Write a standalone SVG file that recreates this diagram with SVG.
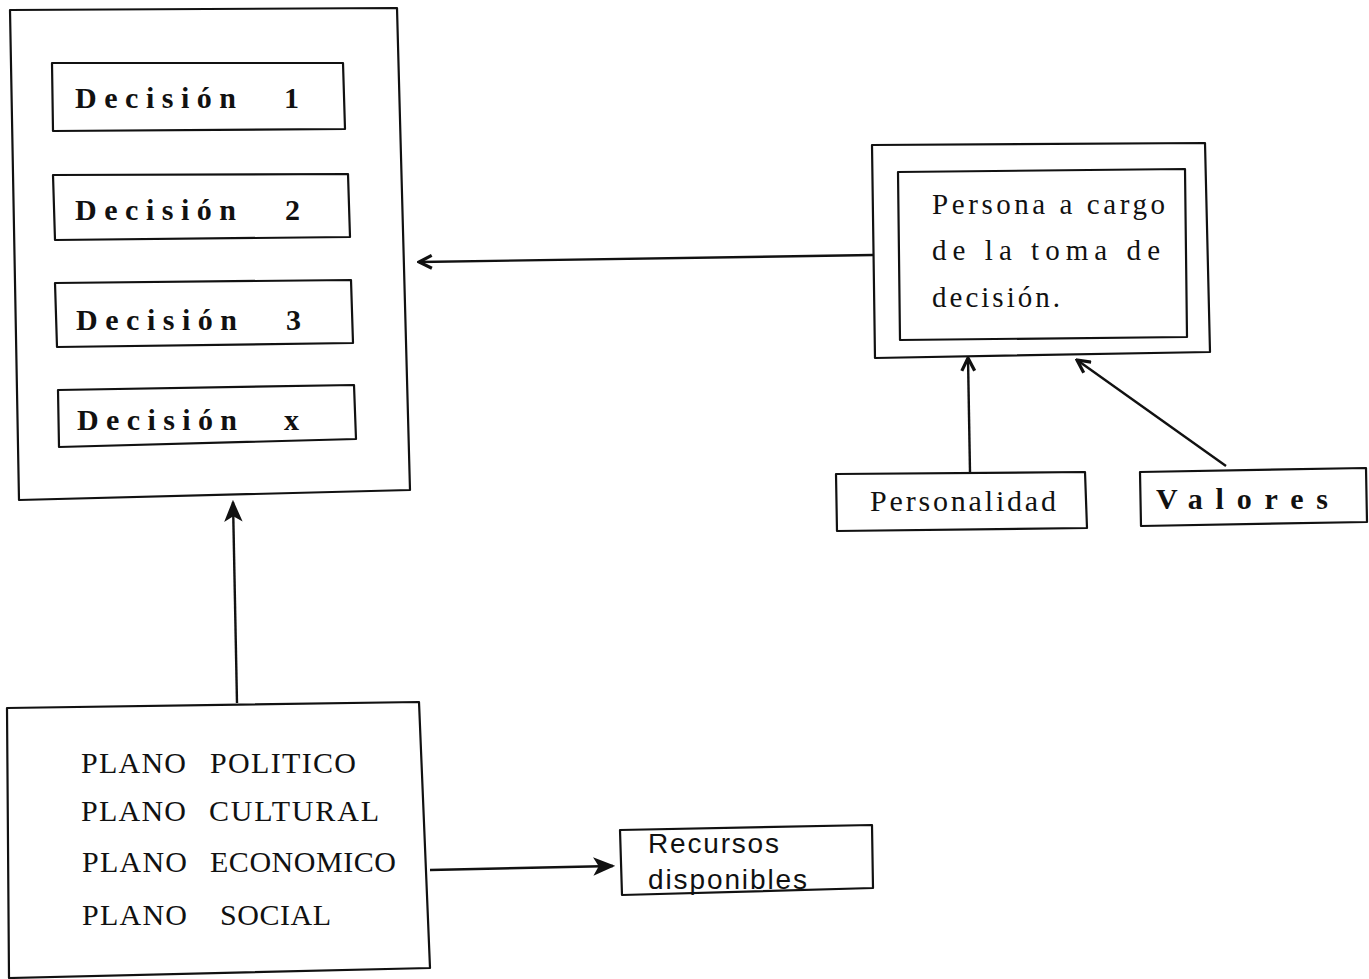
<svg xmlns="http://www.w3.org/2000/svg" width="1369" height="979" viewBox="0 0 1369 979">
  <style>
    .box { fill: none; stroke: #111; stroke-width: 2.2; stroke-linejoin: round; }
    .wire { fill: none; stroke: #111; stroke-width: 2.4; }
    .dec { font-family: "Liberation Serif", "Times New Roman", serif; font-size: 30px; font-weight: bold; fill: #111; }
    .per { font-family: "Liberation Serif", "Times New Roman", serif; font-size: 29px; fill: #111; }
    .plano { font-family: "Liberation Serif", "Times New Roman", serif; font-size: 30px; fill: #111; }
    .rec { font-family: "Liberation Sans", Arial, sans-serif; font-size: 28px; fill: #111; }
  </style>
  <defs>
    <marker id="headBig" viewBox="0 0 10 10" refX="9" refY="5" markerWidth="22" markerHeight="22" markerUnits="userSpaceOnUse" orient="auto">
      <path d="M0,0.8 L10,5 L0,9.2 L2.5,5 Z" fill="#111"/>
    </marker>
    <marker id="headOpen" viewBox="0 0 10 10" refX="9" refY="5" markerWidth="16" markerHeight="16" markerUnits="userSpaceOnUse" orient="auto">
      <path d="M1,1 L9,5 L1,9" fill="none" stroke="#111" stroke-width="2"/>
    </marker>
  </defs>

  <!-- decisions container -->
  <g id="decisiones">
    <polygon class="box" points="10,10 397,8 410,490 19,500"/>
    <g id="decision1">
      <polygon class="box" points="52,63 343,63 345,129 53,131"/>
      <text class="dec" x="75" y="108" textLength="161" lengthAdjust="spacing">Decisión</text>
      <text class="dec" x="284" y="108">1</text>
    </g>
    <g id="decision2">
      <polygon class="box" points="53,175 348,174 350,237 55,240"/>
      <text class="dec" x="75" y="220" textLength="161" lengthAdjust="spacing">Decisión</text>
      <text class="dec" x="285" y="220">2</text>
    </g>
    <g id="decision3">
      <polygon class="box" points="55,283 351,280 353,343 57,347"/>
      <text class="dec" x="76" y="330" textLength="161" lengthAdjust="spacing">Decisión</text>
      <text class="dec" x="286" y="330">3</text>
    </g>
    <g id="decisionx">
      <polygon class="box" points="58,390 354,385 356,439 59,447"/>
      <text class="dec" x="77" y="430" textLength="160" lengthAdjust="spacing">Decisión</text>
      <text class="dec" x="284" y="430">x</text>
    </g>
  </g>

  <!-- person in charge -->
  <g id="persona">
    <polygon class="box" points="872,145 1205,143 1210,352 875,358"/>
    <polygon class="box" points="898,172 1185,169 1187,337 900,340"/>
    <text class="per" x="932" y="214" textLength="233" lengthAdjust="spacing">Persona a cargo</text>
    <text class="per" x="932" y="260" textLength="228" lengthAdjust="spacing">de  la  toma  de</text>
    <text class="per" x="932" y="307" textLength="128" lengthAdjust="spacing">decisión.</text>
  </g>

  <g id="personalidad">
    <polygon class="box" points="836,474 1085,472 1087,528 837,531"/>
    <text class="per" x="870" y="511" textLength="186" lengthAdjust="spacing" style="font-size:30px">Personalidad</text>
  </g>

  <g id="valores">
    <polygon class="box" points="1140,472 1366,468 1367,522 1141,526"/>
    <text class="dec" x="1156" y="509" textLength="172" lengthAdjust="spacing">Valores</text>
  </g>

  <!-- environment planes -->
  <g id="planos">
    <polygon class="box" points="7,708 419,702 430,968 9,978"/>
    <text class="plano" x="81" y="773" textLength="105" lengthAdjust="spacing">PLANO</text>
    <text class="plano" x="210" y="773" textLength="146" lengthAdjust="spacing">POLITICO</text>
    <text class="plano" x="81" y="821" textLength="105" lengthAdjust="spacing">PLANO</text>
    <text class="plano" x="209" y="821" textLength="170" lengthAdjust="spacing">CULTURAL</text>
    <text class="plano" x="82" y="872" textLength="105" lengthAdjust="spacing">PLANO</text>
    <text class="plano" x="210" y="872" textLength="186" lengthAdjust="spacing">ECONOMICO</text>
    <text class="plano" x="82" y="925" textLength="105" lengthAdjust="spacing">PLANO</text>
    <text class="plano" x="220" y="925" textLength="111" lengthAdjust="spacing">SOCIAL</text>
  </g>

  <g id="recursos">
    <polygon class="box" points="620,830 872,825 873,888 622,895"/>
    <text class="rec" x="648" y="853" textLength="131" lengthAdjust="spacing">Recursos</text>
    <text class="rec" x="648" y="889" textLength="159" lengthAdjust="spacing">disponibles</text>
  </g>

  <!-- connectors -->
  <g id="conectores">
    <line class="wire" x1="873" y1="255" x2="419" y2="262" marker-end="url(#headOpen)"/>
    <line class="wire" x1="970" y1="472" x2="968" y2="358" marker-end="url(#headOpen)"/>
    <line class="wire" x1="1226" y1="466" x2="1077" y2="360" marker-end="url(#headOpen)"/>
    <line class="wire" x1="237" y1="703" x2="233" y2="502" marker-end="url(#headBig)"/>
    <line class="wire" x1="430" y1="870" x2="613" y2="866" marker-end="url(#headBig)"/>
  </g>
</svg>
